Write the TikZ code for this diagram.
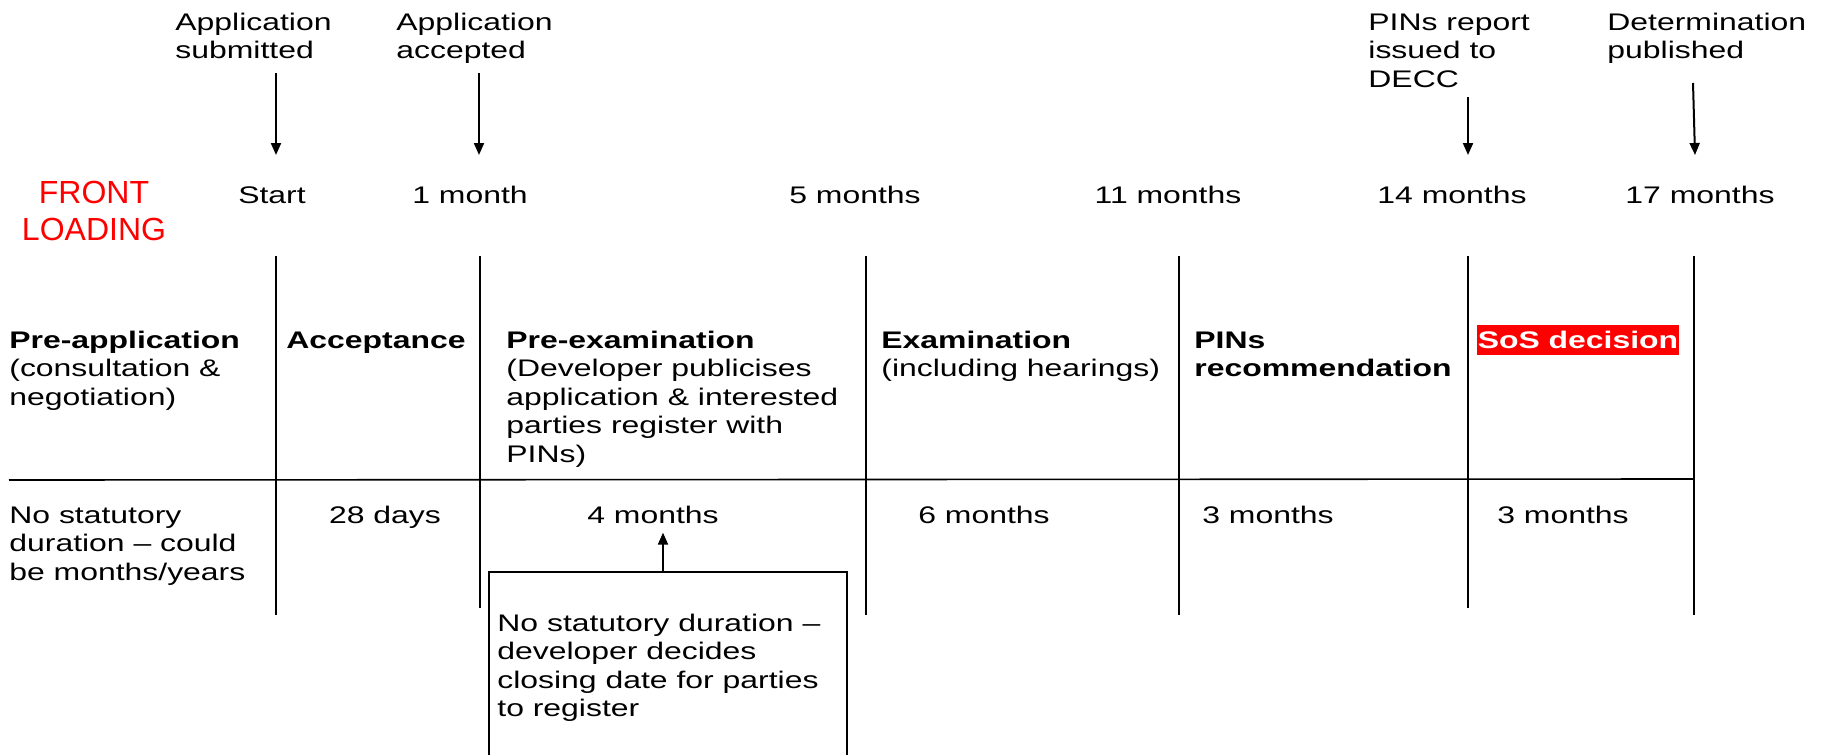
\documentclass[tikz,border=0pt]{standalone}
\usepackage{fontspec}
\setmainfont{Liberation Sans}[FakeStretch=1.33]
\newfontfamily\frontfont{Liberation Sans}
\usetikzlibrary{arrows.meta}

% multi-line nodes sit on the baseline of their last line
\tikzset{
  txt/.style={inner sep=0pt, anchor=base west, align=left},
  ctr/.style={inner sep=0pt, anchor=base},
  milestone/.style={-{Triangle[width=5pt,length=6pt]}, line width=1pt},
  divider/.style={line width=0.8pt},
}

\begin{document}
\begin{tikzpicture}[x=0.5pt, y=-0.5pt, font=\fontsize{12}{14.25}\selectfont]
    \useasboundingbox (0,0) rectangle (1825,755);

    % Milestones
    \node[txt] (sub) at (175,58.5) {Application\\submitted};
    \node[txt] (acc) at (396,58.5) {Application\\accepted};
    \node[txt] (rep) at (1368,87) {PINs report\\issued to\\DECC};
    \node[txt] (det) at (1607,58.5) {Determination\\published};

    \foreach \n/\xa/\ya/\xb in {1/276/73/276, 2/479/73/479, 3/1468/97/1468, 4/1693/83/1695} {
        \coordinate (top\n) at (\xa,\ya);
        \coordinate (tip\n) at (\xb,155);
        \draw[milestone] (top\n) -- (tip\n);
    }

    % Time line
    \node[ctr, text=red, align=center, font=\frontfont\fontsize{16}{18.5}\selectfont] (front) at (94,240) {FRONT\\LOADING};
    \foreach \nm/\x/\t in {t0/272/Start, t1/470/1 month, t5/855/5 months, t11/1168/11 months, t14/1452/14 months, t17/1700/17 months} {
        \node[ctr] (\nm) at (\x,203) {\t};
    }

    % Stage columns
    \foreach \x/\yb in {276/615, 480/608, 866/615, 1179/615, 1468/608, 1694/615} {
        \draw[divider] (\x,256) -- (\x,\yb);
    }
    \draw[divider] (9,480) -- (1694,479);

    % Stage names
    \node[txt] (preapp) at (9,405) {\textbf{Pre-application}\\(consultation \&\\negotiation)};
    \node[txt] (accept) at (286,348) {\textbf{Acceptance}};
    \node[txt] (preexam) at (506,462) {\textbf{Pre-examination}\\(Developer publicises\\application \& interested\\parties register with\\PINs)};
    \node[txt] (exam) at (881,376.5) {\textbf{Examination}\\(including hearings)};
    \node[txt] (pins) at (1194,376.5) {\textbf{PINs}\\\textbf{recommendation}};
    \node[ctr, fill=red, text=white, inner xsep=0.5pt, text height=11.5pt, text depth=3.5pt] (sos) at (1578,348) {\textbf{SoS decision}};

    % Durations
    \node[txt] (dpre) at (9,580) {No statutory\\duration – could\\be months/years};
    \foreach \nm/\x/\t in {dacc/385/28 days, dpreex/653/4 months, dexam/984/6 months, dpins/1268/3 months, dsos/1563/3 months} {
        \node[ctr] (\nm) at (\x,523) {\t};
    }

    % Note on the pre-examination period
    \draw[line width=0.6pt] (489,755) |- (847,572) -- (847,755);
    \coordinate (notetop) at (663,572);
    \node[txt] (note) at (497,716.5) {No statutory duration –\\developer decides\\closing date for parties\\to register};
    \draw[milestone, shorten >=4.5pt] (notetop) -- (notetop |- dpreex.south);
\end{tikzpicture}
\end{document}
